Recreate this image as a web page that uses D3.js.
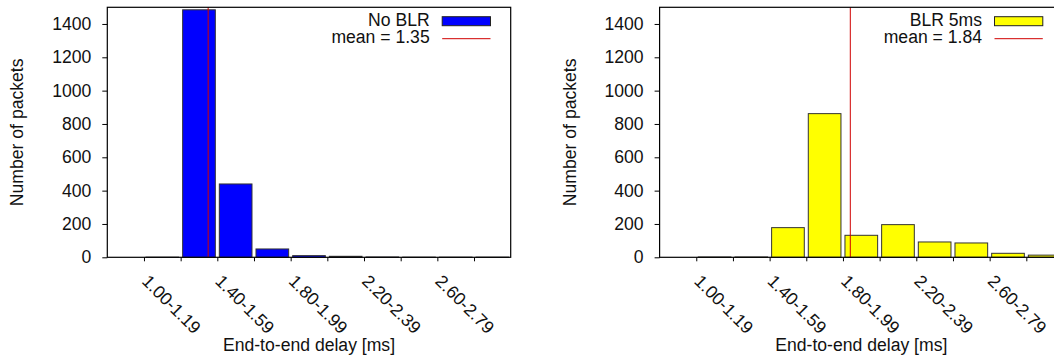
<!DOCTYPE html>
<html>
<head>
<meta charset="utf-8">
<script src="https://cdn.jsdelivr.net/npm/d3@7"></script>
<style>
  html, body { margin: 0; padding: 0; background: #fff; }
  svg { display: block; }
  text { font-family: "Liberation Sans", Arial, Helvetica, sans-serif; fill: #111; }
</style>
</head>
<body>
<svg id="chart" width="1054" height="358"></svg>
<script>
// ---------------- data ----------------
const binLabels = ["0.80-0.99","1.00-1.19","1.20-1.39","1.40-1.59","1.60-1.79","1.80-1.99",
                   "2.00-2.19","2.20-2.39","2.40-2.59","2.60-2.79","2.80-2.99"];
const binLow    = [0.8, 1.0, 1.2, 1.4, 1.6, 1.8, 2.0, 2.2, 2.4, 2.6, 2.8];
const binWidth  = 0.2;
const noBlrCounts  = [0, 1, 1485, 440, 50, 10, 6, 2, 1, 1, 1];
const blr5msCounts = [0, 2, 2, 178, 862, 132, 196, 92, 86, 24, 13];
const noBlrMean  = 1.35;
const blr5msMean = 1.84;
const xTickValues = [1.0, 1.2, 1.4, 1.6, 1.8, 2.0, 2.2, 2.4, 2.6, 2.8];
const xTickLabelsShown = ["1.00-1.19", "1.40-1.59", "1.80-1.99", "2.20-2.39", "2.60-2.79"];
const yTickValues = [0, 200, 400, 600, 800, 1000, 1200, 1400];
const xDomain = [0.8, 3.0];
const yDomain = [0, 1500];
const yTitle = "Number of packets";
const xTitle = "End-to-end delay [ms]";

const panels = [
  { name: "No BLR",   counts: noBlrCounts,  mean: noBlrMean,  fill: "#0000ff", left: 107.3, right: 510.7 },
  { name: "BLR 5ms",  counts: blr5msCounts, mean: blr5msMean, fill: "#ffff00", left: 659.6, right: 1063.0 }
];

// ---------------- drawing ----------------
const svg = d3.select("#chart");
const plotTop = 7.3, plotBottom = 257.3;
const FS = 17.6;

panels.forEach(p => {
  const x = d3.scaleLinear().domain(xDomain).range([p.left, p.right]);
  const y = d3.scaleLinear().domain(yDomain).range([plotBottom, plotTop]);
  const g = svg.append("g");

  // bars
  const bars = binLow.map((lo, i) => ({ lo, hi: lo + binWidth, v: p.counts[i] })).filter(d => d.v > 0);
  g.selectAll("rect.bar").data(bars).enter().append("rect")
    .attr("class", "bar")
    .attr("x", d => x(d.lo) + 2)
    .attr("width", d => x(d.hi) - x(d.lo) - 4)
    .attr("y", d => y(d.v))
    .attr("height", d => Math.max(0, y(0) - y(d.v)))
    .attr("fill", p.fill)
    .attr("stroke", "#333")
    .attr("stroke-width", 1);

  // mean line
  g.append("line")
    .attr("x1", x(p.mean)).attr("x2", x(p.mean))
    .attr("y1", plotTop).attr("y2", plotBottom)
    .attr("stroke", "#d00000").attr("stroke-width", 1);

  // frame
  g.append("rect")
    .attr("x", p.left).attr("y", plotTop)
    .attr("width", p.right - p.left).attr("height", plotBottom - plotTop)
    .attr("fill", "none").attr("stroke", "#000").attr("stroke-width", 1.2);

  // y axis
  const yAxis = d3.axisLeft(y).tickValues(yTickValues).tickSize(5).tickPadding(11)
    .tickSizeOuter(0).tickFormat(d3.format("d"));
  const ya = g.append("g").attr("transform", `translate(${p.left},0)`).call(yAxis);
  ya.select(".domain").remove();
  ya.selectAll("line").attr("stroke", "#000");
  ya.selectAll("text").attr("font-size", FS).attr("font-family", "Liberation Sans, Arial, sans-serif").attr("fill", "#111");

  // x ticks
  const xAxis = d3.axisBottom(x).tickValues(xTickValues).tickSize(4).tickSizeOuter(0).tickFormat("");
  const xa = g.append("g").attr("transform", `translate(0,${plotBottom})`).call(xAxis);
  xa.select(".domain").remove();
  xa.selectAll("line").attr("stroke", "#000");

  // rotated x tick labels (at every other tick)
  const lblVals = xTickValues.filter((v, i) => i % 2 === 0);
  g.selectAll("text.xl").data(lblVals).enter().append("text")
    .attr("class", "xl")
    .attr("transform", d => `translate(${x(d) - 3},${plotBottom + 25}) rotate(45)`)
    .attr("font-size", FS)
    .attr("text-anchor", "start")
    .text((d, i) => xTickLabelsShown[i]);

  // axis titles
  g.append("text")
    .attr("transform", `translate(${p.left - 84},${(plotTop + plotBottom) / 2}) rotate(-90)`)
    .attr("text-anchor", "middle")
    .attr("font-size", FS)
    .text(yTitle);
  g.append("text")
    .attr("x", (p.left + p.right) / 2).attr("y", 351)
    .attr("text-anchor", "middle")
    .attr("font-size", FS)
    .text(xTitle);

  // legend
  const lx1 = p.right - 68.5, lx2 = p.right - 20.2;
  g.append("rect")
    .attr("x", lx1).attr("y", 16.7).attr("width", lx2 - lx1).attr("height", 9)
    .attr("fill", p.fill).attr("stroke", "#222").attr("stroke-width", 1);
  g.append("text")
    .attr("x", lx1 - 12.5).attr("y", 26)
    .attr("text-anchor", "end").attr("font-size", FS)
    .text(p.name);
  g.append("line")
    .attr("x1", lx1).attr("x2", lx2).attr("y1", 38.7).attr("y2", 38.7)
    .attr("stroke", "#d00000").attr("stroke-width", 1);
  g.append("text")
    .attr("x", lx1 - 12.5).attr("y", 43)
    .attr("text-anchor", "end").attr("font-size", FS)
    .text("mean = " + p.mean.toFixed(2));
});
</script>
</body>
</html>
